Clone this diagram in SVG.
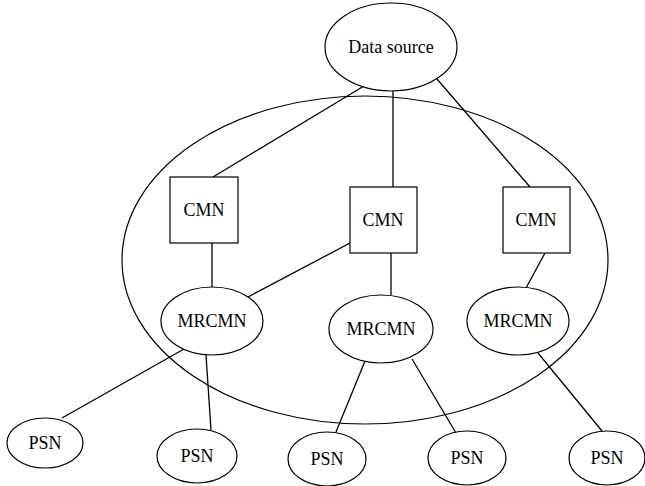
<svg xmlns="http://www.w3.org/2000/svg" width="645" height="486" viewBox="0 0 645 486">
  <style>
    .shape { fill: none; stroke: #000; stroke-width: 1.2; }
    .box { fill: #fff; stroke: #000; stroke-width: 1.2; }
    .link { stroke: #000; stroke-width: 1.3; fill: none; }
    text { font-family: "Liberation Serif", "Times New Roman", serif; font-size: 18px; text-anchor: middle; fill: #000; }
  </style>
  <rect width="645" height="486" fill="#fff"/>

  <!-- cluster boundary -->
  <ellipse id="cluster" class="shape" cx="365" cy="260" rx="243" ry="164"/>

  <g id="connectors">
    <line class="link" x1="364" y1="86" x2="213" y2="177"/>
    <line class="link" x1="393" y1="91" x2="393" y2="187"/>
    <line class="link" x1="437" y1="79" x2="530" y2="187"/>
    <line class="link" x1="212" y1="243" x2="212" y2="287"/>
    <line class="link" x1="350" y1="243" x2="248" y2="297"/>
    <line class="link" x1="391" y1="253" x2="391" y2="295"/>
    <line class="link" x1="545" y1="253" x2="526" y2="288"/>
    <line class="link" x1="184" y1="349" x2="62" y2="418"/>
    <line class="link" x1="206" y1="355" x2="211" y2="430"/>
    <line class="link" x1="365" y1="361" x2="336" y2="432"/>
    <line class="link" x1="412" y1="359" x2="456" y2="433"/>
    <line class="link" x1="538" y1="353" x2="602" y2="431"/>
  </g>

  <g id="data-source">
    <ellipse class="box" cx="391" cy="47" rx="66" ry="44"/>
    <text x="391" y="53">Data source</text>
  </g>

  <g id="cmn-1">
    <rect class="box" x="170" y="177" width="68" height="66"/>
    <text x="204" y="216">CMN</text>
  </g>
  <g id="cmn-2">
    <rect class="box" x="350" y="187" width="67" height="66"/>
    <text x="383" y="226">CMN</text>
  </g>
  <g id="cmn-3">
    <rect class="box" x="503" y="187" width="67" height="66"/>
    <text x="536" y="226">CMN</text>
  </g>

  <g id="mrcmn-1">
    <ellipse class="box" cx="212" cy="321" rx="51" ry="34"/>
    <text x="212" y="327">MRCMN</text>
  </g>
  <g id="mrcmn-2">
    <ellipse class="box" cx="381" cy="329" rx="52" ry="34"/>
    <text x="381" y="335">MRCMN</text>
  </g>
  <g id="mrcmn-3">
    <ellipse class="box" cx="518" cy="321" rx="51" ry="34"/>
    <text x="518" y="327">MRCMN</text>
  </g>

  <g id="psn-1">
    <ellipse class="box" cx="45" cy="443" rx="38" ry="25"/>
    <text x="45" y="449">PSN</text>
  </g>
  <g id="psn-2">
    <ellipse class="box" cx="197" cy="456" rx="40" ry="27"/>
    <text x="197" y="462">PSN</text>
  </g>
  <g id="psn-3">
    <ellipse class="box" cx="327" cy="459" rx="39" ry="27"/>
    <text x="327" y="465">PSN</text>
  </g>
  <g id="psn-4">
    <ellipse class="box" cx="467" cy="458" rx="39" ry="27"/>
    <text x="467" y="464">PSN</text>
  </g>
  <g id="psn-5">
    <ellipse class="box" cx="607" cy="458" rx="38" ry="27"/>
    <text x="607" y="464">PSN</text>
  </g>
</svg>
